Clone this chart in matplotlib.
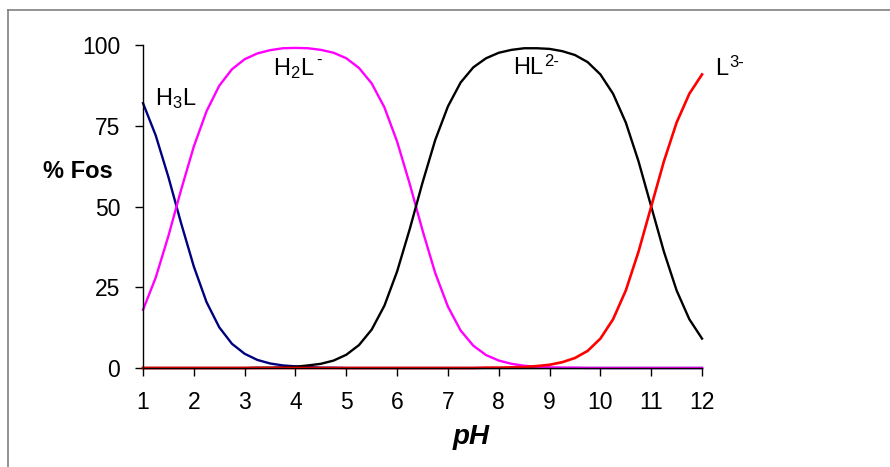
import matplotlib.pyplot as plt
from matplotlib.lines import Line2D

plt.rcParams['font.family'] = ['Liberation Sans', 'DejaVu Sans']
plt.rcParams['mathtext.fontset'] = 'custom'
plt.rcParams['mathtext.rm'] = 'Liberation Sans'
plt.rcParams['mathtext.it'] = 'Liberation Sans:italic'
plt.rcParams['mathtext.bf'] = 'Liberation Sans:bold'

# pH grid (0.25 steps) and species distribution in %
ph = [1.00, 1.25, 1.50, 1.75, 2.00, 2.25, 2.50, 2.75, 3.00, 3.25, 3.50, 3.75,
      4.00, 4.25, 4.50, 4.75, 5.00, 5.25, 5.50, 5.75, 6.00, 6.25, 6.50, 6.75,
      7.00, 7.25, 7.50, 7.75, 8.00, 8.25, 8.50, 8.75, 9.00, 9.25, 9.50, 9.75,
      10.00, 10.25, 10.50, 10.75, 11.00, 11.25, 11.50, 11.75, 12.00]

h3l = [82.0, 72.0, 59.1, 44.8, 31.4, 20.4, 12.6, 7.5, 4.4, 2.5, 1.4, 0.8,
       0.5, 0.3, 0.1, 0.1, 0.0, 0.0, 0.0, 0.0, 0.0, 0.0, 0.0, 0.0,
       0.0, 0.0, 0.0, 0.0, 0.0, 0.0, 0.0, 0.0, 0.0, 0.0, 0.0, 0.0,
       0.0, 0.0, 0.0, 0.0, 0.0, 0.0, 0.0, 0.0, 0.0]

h2l = [18.0, 28.0, 40.9, 55.2, 68.6, 79.5, 87.4, 92.5, 95.6, 97.4, 98.4, 99.0,
       99.1, 99.0, 98.5, 97.6, 95.9, 92.9, 88.1, 80.7, 70.1, 56.9, 42.6, 29.4,
       19.0, 11.6, 6.9, 4.0, 2.3, 1.3, 0.7, 0.4, 0.2, 0.1, 0.1, 0.0,
       0.0, 0.0, 0.0, 0.0, 0.0, 0.0, 0.0, 0.0, 0.0]

hl = [0.0, 0.0, 0.0, 0.0, 0.0, 0.0, 0.0, 0.0, 0.0, 0.1, 0.1, 0.2,
      0.4, 0.8, 1.3, 2.3, 4.1, 7.1, 11.9, 19.3, 29.9, 43.1, 57.4, 70.6,
      81.0, 88.4, 93.1, 95.9, 97.6, 98.5, 99.0, 99.0, 98.8, 98.1, 96.9, 94.7,
      90.9, 84.9, 76.0, 64.0, 50.0, 36.0, 24.0, 15.1, 9.1]

l3 = [0.0, 0.0, 0.0, 0.0, 0.0, 0.0, 0.0, 0.0, 0.0, 0.0, 0.0, 0.0,
      0.0, 0.0, 0.0, 0.0, 0.0, 0.0, 0.0, 0.0, 0.0, 0.0, 0.0, 0.0,
      0.0, 0.0, 0.0, 0.1, 0.1, 0.2, 0.3, 0.6, 1.0, 1.8, 3.1, 5.3,
      9.1, 15.1, 24.0, 36.0, 50.0, 64.0, 76.0, 84.9, 90.9]

# species labels: base text, charge, anchor (pH, %)
species = ['H$_3$L', 'H$_2$L', 'HL', 'L']
charges = ['', '-', '2-', '3-']
label_x = [1.24, 3.56, 8.28, 12.26]
label_y = [81.4, 90.7, 91.0, 90.7]

fig = plt.figure(figsize=(8.9, 4.67), dpi=100)
ax = fig.add_axes([0.1607, 0.212, 0.6281, 0.6916])

ax.plot(ph, h3l, color='#000080', lw=1.7, clip_on=False)
ax.plot(ph, h2l, color='#ff00ff', lw=1.7, clip_on=False)
ax.plot(ph, hl, color='black', lw=1.7, clip_on=False)
ax.plot(ph, l3, color='#ff0000', lw=1.9, clip_on=False)

ax.set_xlim(1, 12)
ax.set_ylim(0, 100)
ax.set_xticks(range(1, 13))
ax.set_yticks([0, 25, 50, 75, 100])
ax.tick_params(direction='out', length=6, width=1, labelsize=16.5, pad=10.5)
for side in ('top', 'right'):
    ax.spines[side].set_visible(False)
ax.spines['left'].set_linewidth(1)
ax.spines['bottom'].set_linewidth(1)

for name, charge, x, y in zip(species, charges, label_x, label_y):
    t = ax.text(x, y, name, fontsize=17, ha='left', va='baseline')
    if charge:
        ax.annotate(charge, xy=(1, 1), xycoords=t, xytext=(1, 2),
                    textcoords='offset points', fontsize=12,
                    ha='left', va='top')

ax.text(-0.116, 0.607, '% Fos', transform=ax.transAxes, fontsize=17,
        fontweight='bold', ha='center', va='center')
ax.text(0.587, -0.214, 'pH', transform=ax.transAxes, fontsize=20,
        fontweight='bold', fontstyle='italic', ha='center', va='center')

# chart area border
border = dict(color='#808080', lw=1.2)
fig.add_artist(Line2D([8 / 890, 1.0], [1 - 10 / 467] * 2, **border))
fig.add_artist(Line2D([8 / 890] * 2, [0.0, 1 - 10 / 467], **border))

fig.savefig('out.png', dpi=100)
